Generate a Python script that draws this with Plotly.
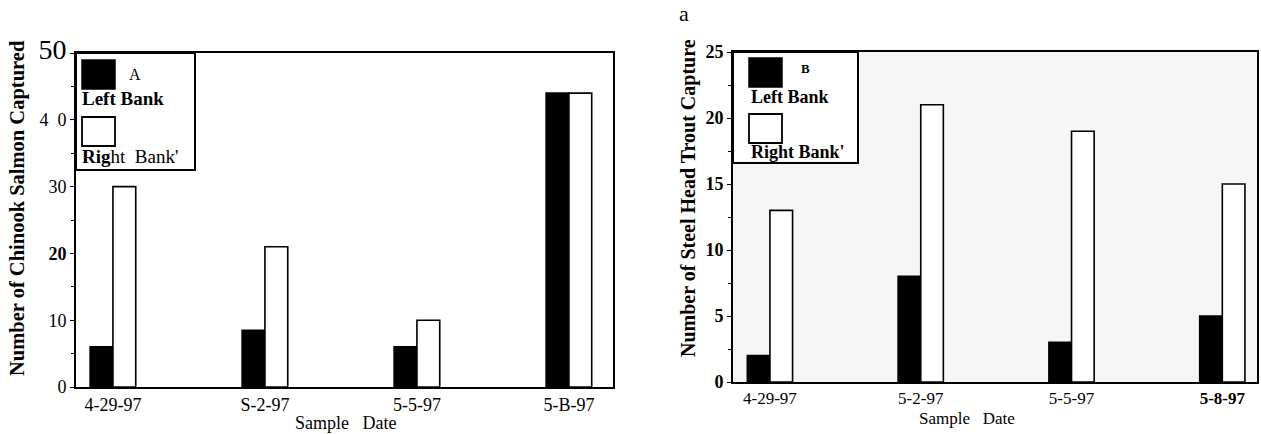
import plotly.graph_objects as go

# ---- data ----
chinook_dates = ["4-29-97", "S-2-97", "5-5-97", "5-B-97"]
chinook_left = [6, 8.5, 6, 44]
chinook_right = [30, 21, 10, 44]

steelhead_dates = ["4-29-97", "5-2-97", "5-5-97", "<b>5-8-97</b>"]
steelhead_left = [2, 8, 3, 5]
steelhead_right = [13, 21, 19, 15]

chinook_ticks = [0, 10, 20, 30, 40, 50]
chinook_ticktext = ["0", "10", "<b>20</b>", "30", "4\u00a0\u00a00",
                    "<span style='font-size:28px'>50</span>"]
steel_ticks = [0, 5, 10, 15, 20, 25]
steel_ticktext = ["<b>0</b>", "<b>5</b>", "<b>10</b>", "<b>15</b>", "<b>20</b>", "<b>25</b>"]

W, H = 1261, 434
SERIF = "Liberation Serif, Times New Roman, serif"


def px(x):
    return x / W


def py(y):
    return 1 - y / H


fig = go.Figure()
positions = list(range(len(chinook_dates)))

bar_line = dict(color="black", width=1.6)
fig.add_trace(go.Bar(x=positions, y=chinook_left, name="Left Bank", xaxis="x", yaxis="y",
                     marker=dict(color="black", line=bar_line), offsetgroup="L"))
fig.add_trace(go.Bar(x=positions, y=chinook_right, name="Right Bank", xaxis="x", yaxis="y",
                     marker=dict(color="white", line=bar_line), offsetgroup="R"))
fig.add_trace(go.Bar(x=positions, y=steelhead_left, name="Left Bank", xaxis="x2", yaxis="y2",
                     marker=dict(color="black", line=bar_line), offsetgroup="L"))
fig.add_trace(go.Bar(x=positions, y=steelhead_right, name="Right Bank", xaxis="x2", yaxis="y2",
                     marker=dict(color="white", line=bar_line), offsetgroup="R"))

axis_common = dict(showline=True, linecolor="black", linewidth=2, mirror=True,
                   showgrid=False, zeroline=False, automargin=False)

fig.update_layout(
    width=W, height=H,
    margin=dict(l=0, r=0, t=0, b=0, pad=0, autoexpand=False),
    paper_bgcolor="white", plot_bgcolor="rgba(0,0,0,0)",
    barmode="group", bargap=0.7, bargroupgap=0,
    showlegend=False,
    font=dict(family=SERIF, color="black"),
    xaxis=dict(domain=[px(76), px(613)], range=[-0.243, 3.29], anchor="y",
               tickvals=positions, ticktext=chinook_dates, ticks="",
               tickfont=dict(size=18, family=SERIF), **axis_common),
    yaxis=dict(domain=[py(387), py(53)], range=[0, 50], anchor="x",
               tickvals=chinook_ticks, ticktext=chinook_ticktext,
               ticks="outside", ticklen=4, tickcolor="black",
               minor=dict(ticks="outside", dtick=5, ticklen=3, tickcolor="black"),
               tickfont=dict(size=18, family=SERIF), **axis_common),
    xaxis2=dict(domain=[px(733), px(1257)], range=[-0.245, 3.23], anchor="y2",
                tickvals=positions, ticktext=steelhead_dates, ticks="",
                tickfont=dict(size=17, family=SERIF), **axis_common),
    yaxis2=dict(domain=[py(382), py(52)], range=[0, 25], anchor="x2",
                tickvals=steel_ticks, ticktext=steel_ticktext,
                ticks="outside", ticklen=4, tickcolor="black",
                minor=dict(ticks="outside", dtick=2.5, ticklen=3, tickcolor="black"),
                tickfont=dict(size=18, family=SERIF), **axis_common),
)

shapes = []
# faint stippled background of panel B
shapes.append(dict(type="rect", xref="paper", yref="paper", layer="below",
                   x0=px(733), x1=px(1257), y0=py(382), y1=py(52),
                   fillcolor="#f6f6f6", line=dict(width=0)))


def legend_box(x0, y0, x1, y1, sq_x, sq_y1, sq_y2, sq_size):
    shapes.append(dict(type="rect", xref="paper", yref="paper",
                       x0=px(x0), x1=px(x1), y0=py(y1), y1=py(y0),
                       fillcolor="white", line=dict(color="black", width=2)))
    shapes.append(dict(type="rect", xref="paper", yref="paper",
                       x0=px(sq_x), x1=px(sq_x + sq_size), y0=py(sq_y1 + sq_size - 4), y1=py(sq_y1),
                       fillcolor="black", line=dict(color="black", width=1.5)))
    shapes.append(dict(type="rect", xref="paper", yref="paper",
                       x0=px(sq_x), x1=px(sq_x + sq_size), y0=py(sq_y2 + sq_size - 4), y1=py(sq_y2),
                       fillcolor="white", line=dict(color="black", width=1.8)))


legend_box(76, 53, 195, 170, 82, 60, 117, 33)
legend_box(733, 52, 858, 163, 749, 58, 114, 33)
fig.update_layout(shapes=shapes)

annotations = []


def text(x, y, s, size, bold=False, angle=0, xanchor="center"):
    annotations.append(dict(xref="paper", yref="paper", x=px(x), y=py(y),
                            text=f"<b>{s}</b>" if bold else s, showarrow=False,
                            textangle=angle, xanchor=xanchor, yanchor="middle",
                            font=dict(family=SERIF, size=size, color="black")))


# panel A legend
text(135, 74, "A", 16)
text(80, 98, "Left Bank", 19, bold=True, xanchor="left")
text(80, 156, "<b>Rig</b>ht\u00a0 Bank'", 19, xanchor="left")
# panel B legend
text(806, 68, "B", 13, bold=True)
text(749, 97, "Left Bank", 18, bold=True, xanchor="left")
text(749, 152, "Right Bank'", 18, bold=True, xanchor="left")

# axis titles
text(18, 208, "Number of Chinook Salmon Captured", 20.5, bold=True, angle=-90)
text(688, 198, "Number of Steel Head Trout Capture", 20, bold=True, angle=-90)
text(684, 14, "a", 22)
text(345, 423, "Sample\u00a0\u00a0 Date", 18)
text(967, 418, "Sample\u00a0\u00a0 Date", 17)

fig.update_layout(annotations=annotations)

fig.write_html("out.html")
